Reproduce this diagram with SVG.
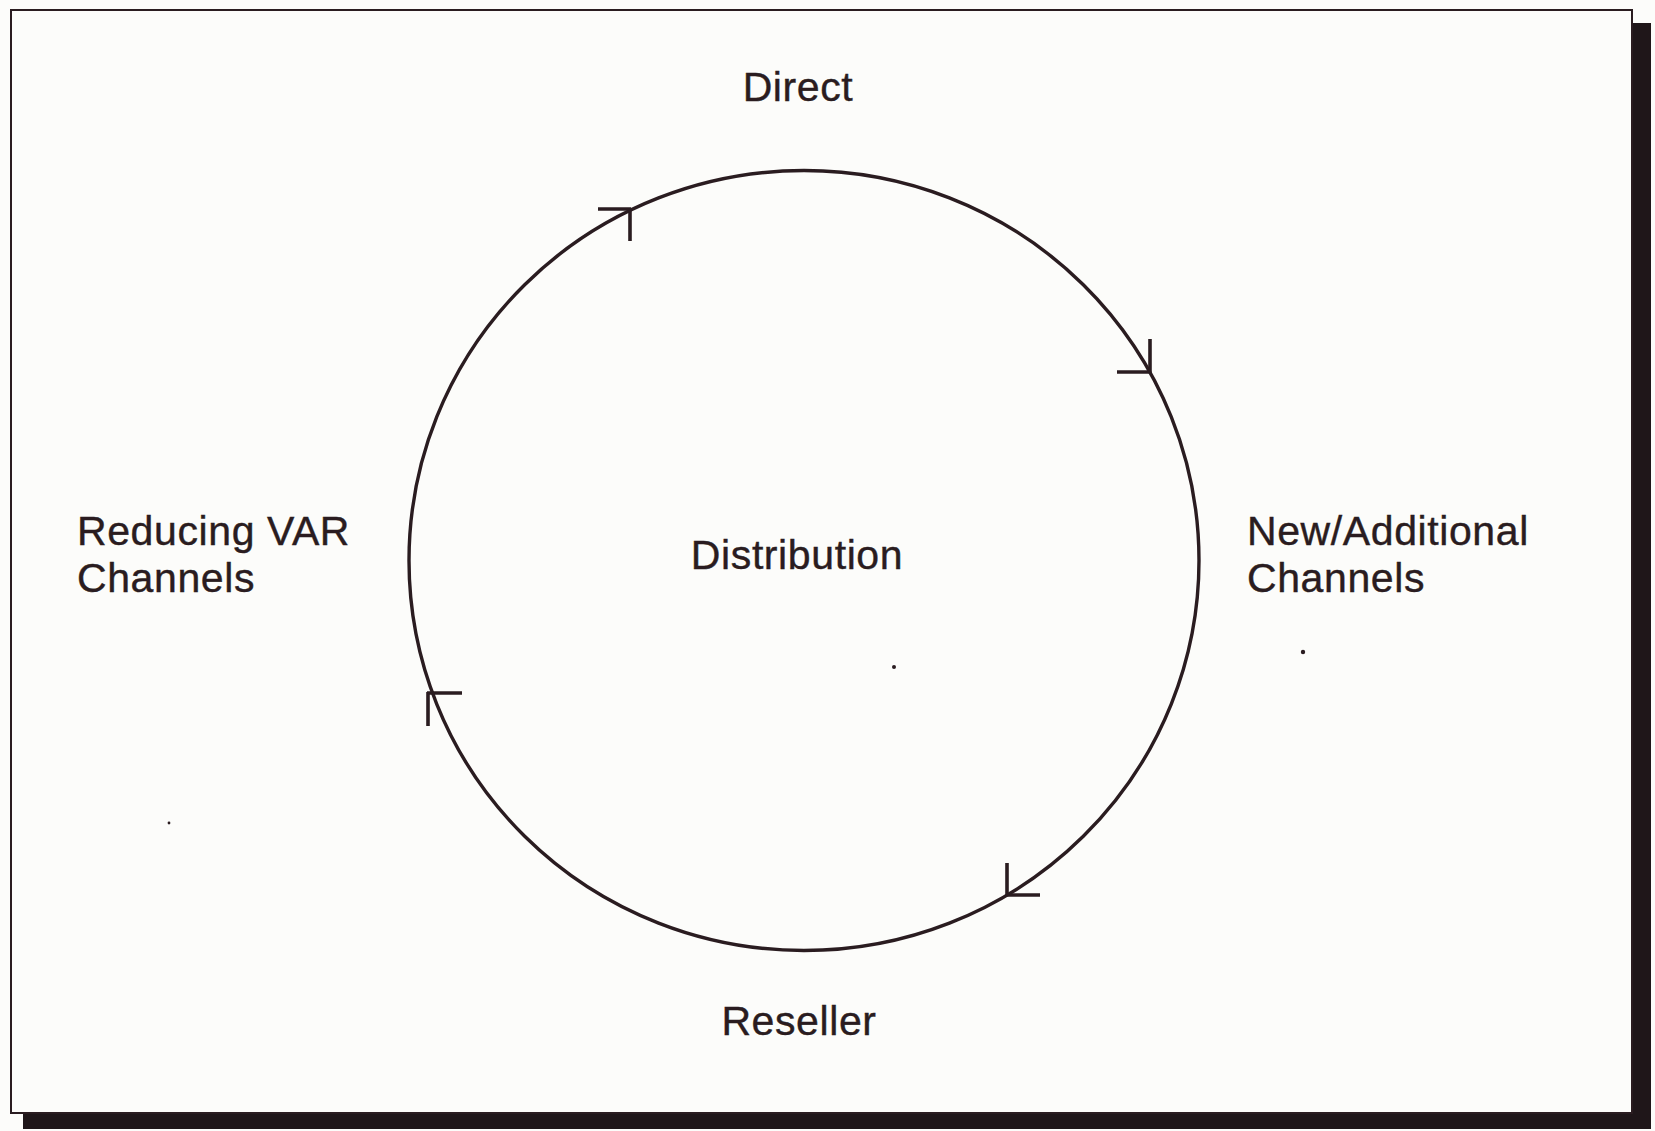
<svg xmlns="http://www.w3.org/2000/svg" width="1655" height="1131" viewBox="0 0 1655 1131">
  <style>
    .label { font-family: "Liberation Sans", Arial, Helvetica, sans-serif; font-size: 41px; fill: #2a1c20; stroke: #2a1c20; stroke-width: 0.4; letter-spacing: 0.6px; }
    .mid { text-anchor: middle; }
    .ring { fill: none; stroke: #2a1c20; stroke-width: 3.4; }
    .tick { fill: none; stroke: #2a1c20; stroke-width: 3.6; stroke-linecap: butt; }
    .speck { fill: #2a1c20; }
  </style>

  <!-- page background -->
  <rect x="0" y="0" width="1655" height="1131" fill="#fcfcfa"/>

  <!-- drop shadow behind the frame -->
  <g id="shadow" fill="#1f1619">
    <rect x="1632" y="23" width="19" height="1106"/>
    <rect x="23" y="1113" width="1628" height="16"/>
  </g>

  <!-- frame -->
  <rect id="frame" x="11" y="10" width="1621" height="1103" fill="#fcfcfa" stroke="#2a1c20" stroke-width="2"/>

  <!-- cycle ring with direction ticks -->
  <g id="connectors">
    <ellipse class="ring" cx="804" cy="560.5" rx="395" ry="390"/>
    <!-- top-left tick -->
    <path class="tick" d="M598 209 H631 M630 209 V241"/>
    <!-- top-right tick -->
    <path class="tick" d="M1150 339 V373 M1117 372 H1151"/>
    <!-- bottom-right tick -->
    <path class="tick" d="M1007 863 V896 M1006 895 H1040"/>
    <!-- bottom-left tick -->
    <path class="tick" d="M428 726 V692 M427 693 H462"/>
  </g>

  <g id="node-direct">
    <text class="label mid" x="798" y="101">Direct</text>
  </g>
  <g id="node-distribution">
    <text class="label mid" x="797" y="569">Distribution</text>
  </g>
  <g id="node-new-channels">
    <text class="label" x="1247" y="545">New/Additional</text>
    <text class="label" x="1247" y="592">Channels</text>
  </g>
  <g id="node-reseller">
    <text class="label mid" x="799" y="1035">Reseller</text>
  </g>
  <g id="node-reducing-var">
    <text class="label" x="77" y="545" letter-spacing="1px">Reducing VAR</text>
    <text class="label" x="77" y="592">Channels</text>
  </g>

  <!-- small specks -->
  <g id="specks">
    <circle class="speck" cx="894" cy="667" r="2"/>
    <circle class="speck" cx="1303" cy="652" r="2.2"/>
    <circle class="speck" cx="169" cy="823" r="1.4"/>
  </g>
</svg>
